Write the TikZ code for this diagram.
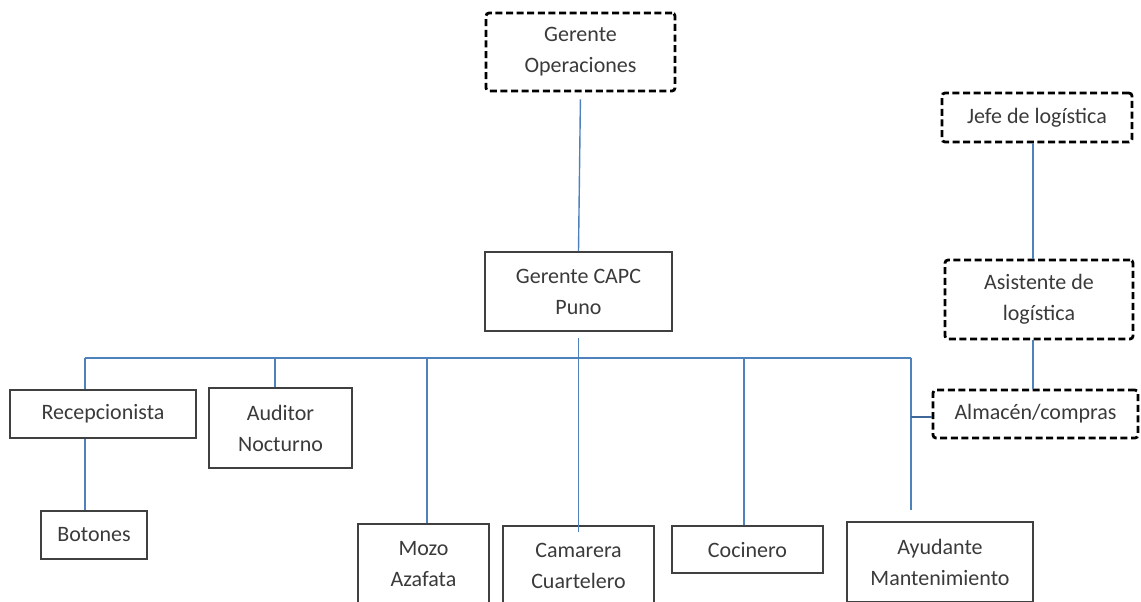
\documentclass[tikz,border=0pt]{standalone}
\usepackage{fontspec}
\setmainfont{Carlito}
\usetikzlibrary{positioning}
\definecolor{linkblue}{HTML}{4F81BD}
\definecolor{boxgray}{HTML}{404040}
\definecolor{txtgray}{HTML}{3A3A3A}

\begin{document}
\begin{tikzpicture}[x=0.5pt,y=-0.5pt,
        box/.style={rectangle, draw=boxgray, line width=0.9pt, align=center, inner sep=0pt, text=txtgray, font=\fontsize{11}{15.5}\selectfont},
        dbox/.style={box, draw=black, line width=1.4pt, dash pattern=on 3.5pt off 1.8pt, rounded corners=1.5pt},
        link/.style={draw=linkblue, line width=0.7pt}]
        \useasboundingbox (0,0) rectangle (1141,601);
        \clip (0,0) rectangle (1141,601);
        \node[dbox, minimum width=94.5pt, minimum height=39pt] at (580.5,52) (gop) {Gerente\\Operaciones};
        \node[box, minimum width=93.5pt, minimum height=39.5pt] at (578.5,291.5) (capc) {Gerente CAPC\\Puno};
        \node[dbox, minimum width=95pt, minimum height=24.5pt] at (1037,117.5) (jefe) {Jefe de logística};
        \node[dbox, minimum width=94pt, minimum height=39.5pt] at (1039,299.5) (asis) {Asistente de\\logística};
        \node[dbox, minimum width=102.5pt, minimum height=24pt] at (1035.5,414) (alm) {Almacén/compras};
        \node[box, minimum width=93pt, minimum height=24pt] at (103,414) (recep) {Recepcionista};
        \node[box, minimum width=71.5pt, minimum height=40pt] at (280.5,428) (aud) {Auditor\\Nocturno};
        \node[box, minimum width=53pt, minimum height=24pt] at (94,535) (bot) {Botones};
        \node[box, minimum width=65.5pt, minimum height=40pt] at (423.5,564) (mozo) {Mozo\\Azafata};
        \node[box, minimum width=75.5pt, minimum height=40pt] at (578.5,566) (cam) {Camarera\\Cuartelero};
        \node[box, minimum width=75.5pt, minimum height=23.5pt] at (747.5,549.5) (coc) {Cocinero};
        \node[box, minimum width=93pt, minimum height=40pt] at (940,562) (ayu) {Ayudante\\Mantenimiento};
        \coordinate (busL) at (85,358);
        \coordinate (busR) at (911,358);
        \coordinate (bAud) at (275,358);
        \coordinate (bMozo) at (427,358);
        \coordinate (bCoc) at (744,358);
        \coordinate (almJ) at (911,417);
        \coordinate (lg) at (1033,200);
        \draw[link, shorten <=3.5pt] (gop.south) -- (capc.north);
        \draw[link, shorten <=3pt, shorten >=-3.5pt] (capc.south) -- (cam.north);
        \draw[link] (busL) -- (busR);
        \draw[link] (busL) -- (busL |- recep.north);
        \draw[link] (busL |- recep.south) -- (busL |- bot.north);
        \draw[link] (bAud) -- (bAud |- aud.north);
        \draw[link] (bMozo) -- (bMozo |- mozo.north);
        \draw[link] (bCoc) -- (bCoc |- coc.north);
        \draw[link, shorten >=5.5pt] (busR) -- (busR |- ayu.north);
        \draw[link, draw=linkblue!80!black, line width=1.3pt] (almJ) -- (almJ -| alm.west);
        \draw[link] (lg |- jefe.south) -- (lg |- asis.north);
        \draw[link] (lg |- asis.south) -- (lg |- alm.north);
      \end{tikzpicture}
\end{document}
